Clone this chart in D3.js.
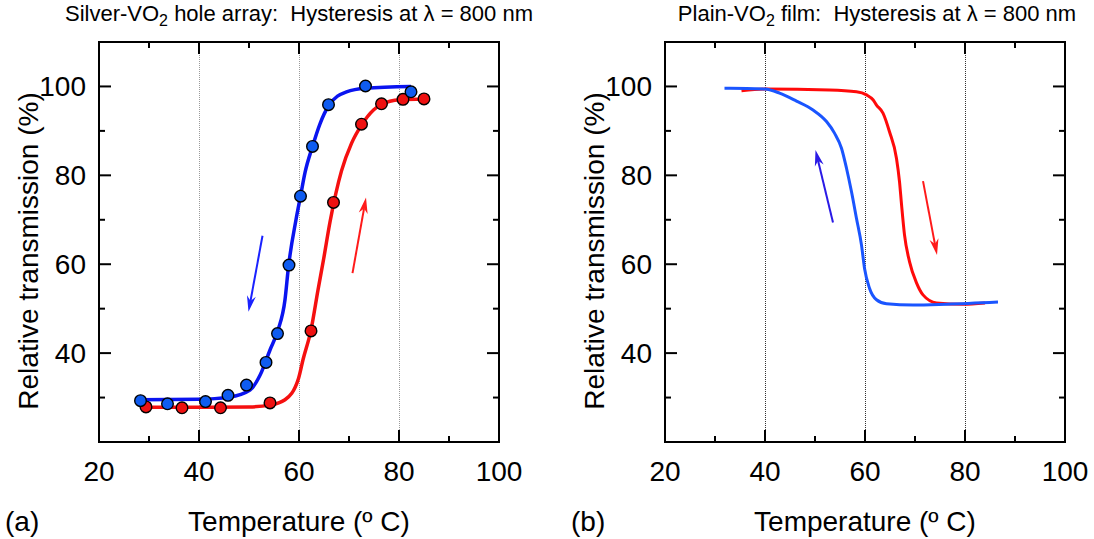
<!DOCTYPE html>
<html>
<head>
<meta charset="utf-8">
<script src="https://cdn.jsdelivr.net/npm/d3@7"></script>
<style>
  body { margin: 0; background: #fff; }
  svg { display: block; font-family: "Liberation Sans", Arial, Helvetica, sans-serif; }
</style>
</head>
<body>
<svg id="fig" width="1094" height="539"></svg>
<script>
// ---- Axis ticks ----
const xMajor = [20, 40, 60, 80, 100];
const xMinor = [30, 50, 70, 90];
const yMajor = [40, 60, 80, 100];
const yMinor = [30, 50, 70, 90];
const yLabels = [40, 60, 80, 100];
const gridTemps = [40, 60, 80];

// ---- (a) Silver-VO2 hole array: measured points ----
const heatTempA  = [29.4, 36.6, 44.3, 54.2, 62.4, 66.9, 72.5, 76.5, 80.8, 85.0];
const heatTransA = [27.9, 27.7, 27.7, 28.8, 45.0, 73.9, 91.5, 96.1, 97.1, 97.2];
const coolTempA  = [28.3, 33.7, 41.3, 45.8, 49.5, 53.4, 55.7, 58.0, 60.3, 62.7, 65.9, 73.3, 82.4];
const coolTransA = [29.3, 28.6, 29.1, 30.5, 32.8, 37.9, 44.4, 59.8, 75.3, 86.5, 95.9, 100.1, 98.8];

// ---- (a) fitted curves ----
const heatFitTempA  = [29.4, 40, 50, 54.2, 57.2, 59.9, 60.8, 62.4, 63.8, 64.9, 66.2, 68.5, 70.5, 72.5, 74.9, 76.5, 80.2, 85.0];
const heatFitTransA = [27.8, 27.8, 27.9, 28.3, 29.5, 34.3, 38.5, 45.2, 54.2, 61.0, 69.5, 81.0, 87.2, 91.3, 94.7, 96.0, 97.0, 97.2];
const coolFitTempA  = [28.3, 40, 46, 50.2, 52.2, 54.2, 55.8, 57.2, 57.9, 59.4, 60.3, 61.2, 62.7, 64.2, 65.9, 69.5, 73.3, 82.4];
const coolFitTransA = [29.5, 29.6, 30.1, 31.7, 35.0, 40.7, 45.2, 52.0, 59.5, 70.0, 75.3, 80.6, 86.5, 91.6, 95.6, 98.8, 99.6, 100.0];

// ---- (b) Plain-VO2 film: continuous scans ----
const heatTempB  = [35.3, 40, 52.9, 58.3, 60.3, 61.6, 62.3, 63.6, 64.9, 66.3, 66.9, 67.3, 67.9, 68.9, 70.3, 71.6, 74.3, 79.6, 84.0];
const heatTransB = [99.05, 99.4, 99.2, 98.8, 98.1, 97.0, 95.8, 94.0, 89.8, 83.8, 78.6, 73.5, 66.6, 60.6, 55.8, 53.1, 51.3, 51.0, 51.3];
const coolTempB  = [31.9, 32.9, 40, 42.9, 46.3, 49.6, 52.3, 53.9, 55.3, 56.3, 57.3, 58.3, 59.3, 59.9, 60.9, 62.3, 64.3, 69.6, 76.3, 86.6];
const coolTransB = [99.6, 99.6, 99.4, 98.5, 96.7, 94.7, 92.1, 89.5, 86.1, 81.6, 76.3, 70.3, 64.3, 59.1, 54.6, 52.0, 51.1, 50.8, 51.0, 51.5];

// ---- direction arrows: [tempFrom, transFrom, tempTo, transTo] ----
const arrowCoolA = [52.7, 66.4, 49.9, 49.3];
const arrowHeatA = [70.7, 58.0, 73.4, 75.0];
const arrowCoolB = [53.6, 69.4, 50.1, 85.7];
const arrowHeatB = [71.6, 78.7, 74.4, 62.1];

const svg = d3.select("#fig");
const zip = (xs, ys) => xs.map((x, i) => [x, ys[i]]);

function drawPanel(cfg) {
  const x = d3.scaleLinear().domain([20, 100]).range([cfg.left, cfg.left + 400]);
  const y = d3.scaleLinear().domain([20, 110]).range([442, 42]);
  const g = svg.append("g");
  const x0 = x.range()[0], x1 = x.range()[1];
  const y0 = y.range()[0], y1 = y.range()[1];

  // dotted vertical grid
  g.selectAll(".grid").data(gridTemps).join("line")
    .attr("x1", d => x(d) + 0.5).attr("x2", d => x(d) + 0.5)
    .attr("y1", y0).attr("y2", y1)
    .attr("stroke", cfg.gridColor).attr("stroke-width", 1)
    .attr("stroke-dasharray", "1,1");

  // ticks on all four sides, pointing inward
  const tk = (vals, len) => {
    g.append("g").selectAll("line").data(vals).join("line")
      .attr("x1", d => x(d)).attr("x2", d => x(d)).attr("y1", y0).attr("y2", y0 - len)
      .attr("stroke", "#000").attr("stroke-width", 2);
    g.append("g").selectAll("line").data(vals).join("line")
      .attr("x1", d => x(d)).attr("x2", d => x(d)).attr("y1", y1).attr("y2", y1 + len)
      .attr("stroke", "#000").attr("stroke-width", 2);
  };
  const tky = (vals, len) => {
    g.append("g").selectAll("line").data(vals).join("line")
      .attr("y1", d => y(d)).attr("y2", d => y(d)).attr("x1", x0).attr("x2", x0 + len)
      .attr("stroke", "#000").attr("stroke-width", 2);
    g.append("g").selectAll("line").data(vals).join("line")
      .attr("y1", d => y(d)).attr("y2", d => y(d)).attr("x1", x1).attr("x2", x1 - len)
      .attr("stroke", "#000").attr("stroke-width", 2);
  };
  tk(xMajor.filter(d => d > 20 && d < 100), 12);
  tk(xMinor, 6);
  tky(yMajor, 12);
  tky(yMinor, 6);

  // frame
  g.append("rect").attr("x", x0).attr("y", y1).attr("width", x1 - x0).attr("height", y0 - y1)
    .attr("fill", "none").attr("stroke", "#000").attr("stroke-width", 2);

  // tick labels
  g.append("g").selectAll("text").data(xMajor).join("text")
    .attr("x", d => x(d)).attr("y", 481).attr("text-anchor", "middle")
    .attr("font-size", 28).text(d => d);
  g.append("g").selectAll("text").data(yLabels).join("text")
    .attr("x", x0 - 13).attr("y", d => y(d) + 10).attr("text-anchor", "end")
    .attr("font-size", 28).text(d => d);

  // axis titles
  g.append("text").attr("transform", `translate(${x0 - 61},251) rotate(-90)`)
    .attr("text-anchor", "middle").attr("font-size", 28).text("Relative transmission (%)");
  g.append("text").attr("x", (x0 + x1) / 2).attr("y", 531).attr("text-anchor", "middle")
    .attr("font-size", 28).text("Temperature (\u00BA C)");
  g.append("text").attr("x", cfg.left - 94).attr("y", 531).attr("font-size", 28).text(cfg.tag);

  // panel title with subscript
  const t = g.append("text").attr("x", (x0 + x1) / 2 + cfg.titleShift).attr("y", 21).attr("text-anchor", "middle")
    .attr("font-size", 22).attr("xml:space", "preserve").style("white-space", "pre");
  t.append("tspan").text(cfg.titleA);
  t.append("tspan").attr("dy", 5).attr("font-size", 16).text("2");
  t.append("tspan").attr("dy", -5).text(cfg.titleB);

  return { g, x, y };
}

function arrow(g, x, y, a, color) {
  const p0 = [x(a[0]), y(a[1])], p1 = [x(a[2]), y(a[3])];
  const dx = p1[0] - p0[0], dy = p1[1] - p0[1];
  const L = Math.hypot(dx, dy), ux = dx / L, uy = dy / L, nx = -uy, ny = ux;
  const hl = 16, hw = 4.5, notch = 11;
  g.append("line").attr("x1", p0[0]).attr("y1", p0[1])
    .attr("x2", p1[0] - ux * notch).attr("y2", p1[1] - uy * notch)
    .attr("stroke", color).attr("stroke-width", 2);
  const pts = [
    p1,
    [p1[0] - ux * hl + nx * hw, p1[1] - uy * hl + ny * hw],
    [p1[0] - ux * notch, p1[1] - uy * notch],
    [p1[0] - ux * hl - nx * hw, p1[1] - uy * hl - ny * hw]
  ];
  g.append("path").attr("d", "M" + pts.map(p => p.join(",")).join("L") + "Z").attr("fill", color);
}

// ---------------- panel (a) ----------------
const A = drawPanel({ left: 99, tag: "(a)", gridColor: "#9a9a9a", titleShift: 0,
  titleA: "Silver-VO", titleB: " hole array:  Hysteresis at \u03BB = 800 nm" });
const lineA = d3.line().x(d => A.x(d[0])).y(d => A.y(d[1])).curve(d3.curveMonotoneX);
A.g.append("path").attr("d", lineA(zip(coolFitTempA, coolFitTransA)))
  .attr("fill", "none").attr("stroke", "#0a14f0").attr("stroke-width", 3.5);
A.g.append("path").attr("d", lineA(zip(heatFitTempA, heatFitTransA)))
  .attr("fill", "none").attr("stroke", "#f51010").attr("stroke-width", 3.5);
A.g.append("g").selectAll("circle").data(zip(heatTempA, heatTransA)).join("circle")
  .attr("cx", d => A.x(d[0])).attr("cy", d => A.y(d[1])).attr("r", 5.8)
  .attr("fill", "#ee1111").attr("stroke", "#000").attr("stroke-width", 1.4);
A.g.append("g").selectAll("circle").data(zip(coolTempA, coolTransA)).join("circle")
  .attr("cx", d => A.x(d[0])).attr("cy", d => A.y(d[1])).attr("r", 5.8)
  .attr("fill", "#0f5cf0").attr("stroke", "#000").attr("stroke-width", 1.4);
arrow(A.g, A.x, A.y, arrowCoolA, "#1a22ff");
arrow(A.g, A.x, A.y, arrowHeatA, "#ff1a1a");

// ---------------- panel (b) ----------------
const B = drawPanel({ left: 665, tag: "(b)", gridColor: "#333", titleShift: 12,
  titleA: "Plain-VO", titleB: " film:  Hysteresis at \u03BB = 800 nm" });
const lineB = d3.line().x(d => B.x(d[0])).y(d => B.y(d[1])).curve(d3.curveMonotoneX);
B.g.append("path").attr("d", lineB(zip(heatTempB, heatTransB)))
  .attr("fill", "none").attr("stroke", "#ff0a0a").attr("stroke-width", 3);
B.g.append("path").attr("d", lineB(zip(coolTempB, coolTransB)))
  .attr("fill", "none").attr("stroke", "#1a55ff").attr("stroke-width", 3);
arrow(B.g, B.x, B.y, arrowCoolB, "#2a1ae6");
arrow(B.g, B.x, B.y, arrowHeatB, "#ff1a1a");
</script>
</body>
</html>
